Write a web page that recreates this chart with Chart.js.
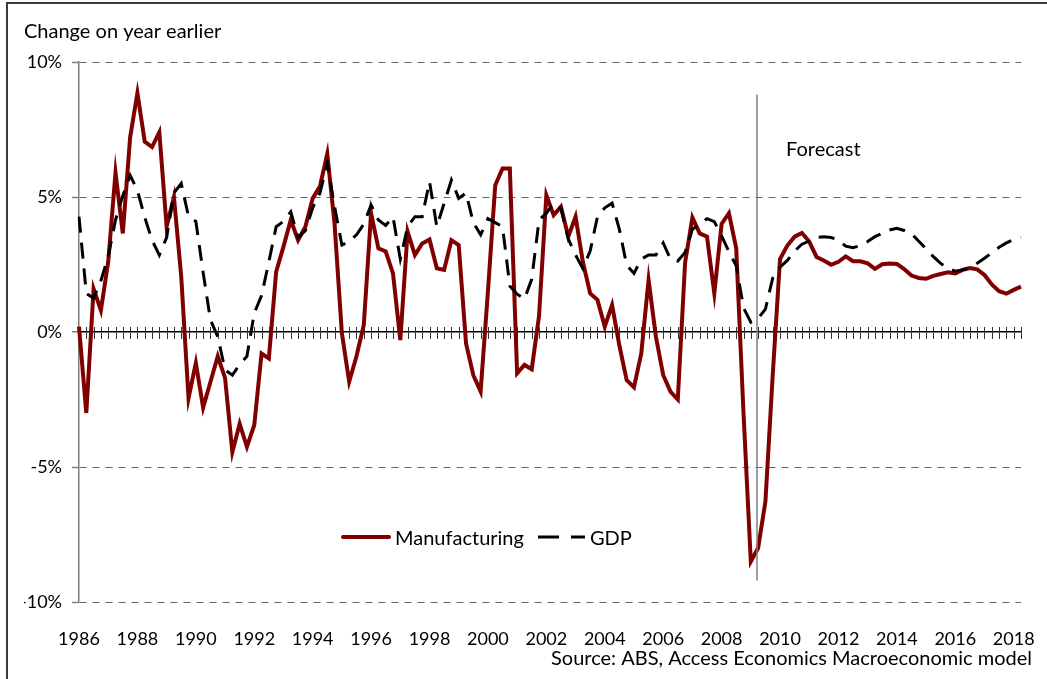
<!DOCTYPE html>
<html>
<head>
<meta charset="utf-8">
<script src="https://cdn.jsdelivr.net/npm/chart.js@4.4.1/dist/chart.umd.min.js"></script>
<style>
  html, body { margin: 0; padding: 0; background: #fff; }
  #wrap { width: 1047px; height: 679px; position: relative; }
</style>
</head>
<body>
<div id="wrap"><canvas id="chart" width="1047" height="679"></canvas></div>
<script>
// quarterly, 1986 Q1 .. 2018 Q2
const startYear = 1986;
const quarterCount = 130;

const manufacturing = [
    0.2, -3.0, 1.6, 0.8, 2.6, 5.9, 3.65, 7.2, 8.85, 7.05,
    6.85, 7.4, 3.9, 5.0, 2.05, -2.45, -1.15, -2.8, -1.85, -0.9,
    -1.7, -4.45, -3.4, -4.25, -3.45, -0.8, -0.98, 2.23, 3.16, 4.15,
    3.4, 3.9, 4.95, 5.4, 6.6, 4.0, -0.05, -1.84, -0.9, 0.26,
    4.4, 3.1, 2.98, 2.17, -0.3, 3.72, 2.85, 3.28, 3.43, 2.36,
    2.3, 3.4, 3.22, -0.42, -1.6, -2.2, 1.5, 5.44, 6.06, 6.06,
    -1.53, -1.22, -1.38, 0.6, 5.07, 4.33, 4.64, 3.53, 4.27, 2.6,
    1.43, 1.19, 0.2, 1.0, -0.5, -1.78, -2.05, -0.79, 1.93, -0.17,
    -1.59, -2.21, -2.5, 2.57, 4.24, 3.65, 3.53, 1.43, 4.0, 4.4,
    3.1, -3.0, -8.5, -8.0, -6.28, -1.6, 2.7, 3.2, 3.53, 3.67,
    3.35, 2.78, 2.65, 2.49, 2.6, 2.8, 2.62, 2.62, 2.54, 2.34,
    2.51, 2.54, 2.52, 2.33, 2.09, 2.0, 1.97, 2.08, 2.15, 2.21,
    2.17, 2.3, 2.37, 2.32, 2.11, 1.76, 1.51, 1.42, 1.56, 1.68
];

const gdp = [
    4.27, 1.43, 1.25, 1.9, 2.8, 4.15, 5.05, 5.8, 5.25, 4.25,
    3.4, 2.85, 3.5, 5.15, 5.5, 4.27, 4.1, 2.2, 0.45, -0.17,
    -1.4, -1.6, -1.2, -0.9, 0.7, 1.35, 2.6, 3.9, 4.1, 4.45,
    3.5, 3.75, 4.6, 5.15, 6.25, 4.65, 3.22, 3.35, 3.6, 4.0,
    4.7, 4.15, 3.95, 4.27, 2.7, 3.9, 4.27, 4.27, 5.57, 3.9,
    4.77, 5.63, 4.95, 5.15, 4.05, 3.6, 4.2, 4.05, 3.9, 1.7,
    1.4, 1.22, 1.96, 4.15, 4.4, 4.77, 4.58, 3.45, 2.85, 2.35,
    3.0, 4.27, 4.6, 4.77, 3.8, 2.48, 2.17, 2.7, 2.85, 2.85,
    3.3, 2.7, 2.63, 2.95, 3.8, 4.0, 4.2, 4.09, 3.56, 2.98,
    2.45, 0.9, 0.36, 0.5, 0.85, 2.0, 2.4, 2.65, 3.0, 3.25,
    3.37, 3.5, 3.53, 3.5, 3.4, 3.18, 3.12, 3.2, 3.35, 3.53,
    3.65, 3.78, 3.84, 3.76, 3.64, 3.36, 3.08, 2.79, 2.54, 2.36,
    2.25, 2.3, 2.38, 2.55, 2.73, 2.93, 3.14, 3.3, 3.42, 3.5
];

const yTicks = [-10, -5, 0, 5, 10];
const forecastAt = 92.85;          // between 2009 Q1 and Q2
const forecastSpan = [8.8, -9.2];  // vertical extent of the marker line, in %

const quarters = [];
for (let i = 0; i < quarterCount; i++) {
    quarters.push((startYear + Math.floor(i / 4)) + ' Q' + (i % 4 + 1));
}

const FONT = 'Lato, "Open Sans", sans-serif';
const RED = '#800000';

// zero axis with quarter ticks, forecast marker, legend, source, frame
const extras = {
    id: 'extras',
    beforeDatasetsDraw(chart) {
        const {ctx, scales: {x, y}} = chart;
        const y0 = y.getPixelForValue(0);
        ctx.save();
        ctx.strokeStyle = '#333';
        ctx.lineWidth = 1;
        for (let i = 1; i < quarterCount; i++) {
            const px = Math.round(x.getPixelForValue(i)) + 0.5;
            ctx.beginPath();
            ctx.moveTo(px, y0 - 5);
            ctx.lineTo(px, y0 + 7);
            ctx.stroke();
        }
        ctx.restore();
    },
    afterDatasetsDraw(chart) {
        const {ctx, scales: {x, y}} = chart;
        ctx.save();

        // forecast marker
        const fx = x.getPixelForValue(forecastAt);
        ctx.strokeStyle = '#7f7f7f';
        ctx.lineWidth = 1.5;
        ctx.beginPath();
        ctx.moveTo(fx, y.getPixelForValue(forecastSpan[0]));
        ctx.lineTo(fx, y.getPixelForValue(forecastSpan[1]));
        ctx.stroke();

        ctx.fillStyle = '#000';
        ctx.font = '20px ' + FONT;
        ctx.textBaseline = 'middle';
        ctx.textAlign = 'left';
        ctx.fillText('Forecast', fx + 29, 150);

        // legend
        ctx.lineCap = 'round';
        ctx.strokeStyle = RED;
        ctx.lineWidth = 4;
        ctx.beginPath();
        ctx.moveTo(343, 537);
        ctx.lineTo(389, 537);
        ctx.stroke();
        ctx.fillText('Manufacturing', 395, 539);

        ctx.lineCap = 'butt';
        ctx.strokeStyle = '#000';
        ctx.lineWidth = 3;
        ctx.setLineDash([21, 12]);
        ctx.beginPath();
        ctx.moveTo(538, 537);
        ctx.lineTo(585, 537);
        ctx.stroke();
        ctx.setLineDash([]);
        ctx.fillText('GDP', 590, 539);

        // source
        ctx.textAlign = 'right';
        ctx.fillText('Source: ABS, Access Economics Macroeconomic model', 1032, 659);

        // outer frame (top and left edges)
        ctx.strokeStyle = '#3a3a3a';
        ctx.lineWidth = 2;
        ctx.beginPath();
        ctx.moveTo(7, 679);
        ctx.lineTo(7, 3);
        ctx.lineTo(1047, 3);
        ctx.stroke();
        ctx.restore();
    }
};

new Chart(document.getElementById('chart'), {
    type: 'line',
    data: {
        labels: quarters,
        datasets: [
            {
                label: 'Manufacturing',
                data: manufacturing,
                borderColor: RED,
                borderWidth: 4,
                pointRadius: 0,
                tension: 0,
                fill: false,
                order: 1
            },
            {
                label: 'GDP',
                data: gdp,
                borderColor: '#000',
                borderWidth: 3,
                borderDash: [16, 10],
                pointRadius: 0,
                tension: 0,
                fill: false,
                order: 0
            }
        ]
    },
    options: {
        responsive: false,
        animation: false,
        devicePixelRatio: 1,
        layout: {
            padding: { top: 0, left: 24, right: 26, bottom: 31 }
        },
        plugins: {
            legend: { display: false },
            tooltip: { enabled: false },
            title: {
                display: true,
                text: 'Change on year earlier',
                align: 'start',
                color: '#000',
                font: { family: FONT, size: 20, weight: 'normal' },
                padding: { top: 20, bottom: 18 }
            }
        },
        scales: {
            x: {
                grid: { display: false },
                border: { display: false },
                afterFit: (scale) => { scale.height = 46; },
                ticks: {
                    autoSkip: false,
                    maxRotation: 0,
                    minRotation: 0,
                    padding: 18,
                    color: '#000',
                    font: { family: FONT, size: 18 },
                    callback: function (value, index) {
                        return index % 8 === 0 ? this.getLabelForValue(value).split(' ')[0] : '';
                    }
                }
            },
            y: {
                min: -10,
                max: 10,
                afterFit: (scale) => { scale.width = 55; },
                afterBuildTicks: (scale) => {
                    scale.ticks = yTicks.map(v => ({ value: v }));
                },
                grid: {
                    color: (c) => c.tick && c.tick.value === 0 ? '#000' : '#666',
                    lineWidth: (c) => c.tick && c.tick.value === 0 ? 1.5 : 1,
                    drawTicks: true,
                    tickLength: 7,
                    tickColor: '#7f7f7f',
                    tickWidth: 1.5
                },
                border: {
                    display: true,
                    color: '#7f7f7f',
                    width: 1.5,
                    dash: (c) => c.tick && c.tick.value === 0 ? [] : [7, 6]
                },
                ticks: {
                    padding: 10,
                    color: '#000',
                    font: { family: FONT, size: 18 },
                    callback: (v) => v + '%'
                }
            }
        }
    },
    plugins: [extras]
});
</script>
</body>
</html>
